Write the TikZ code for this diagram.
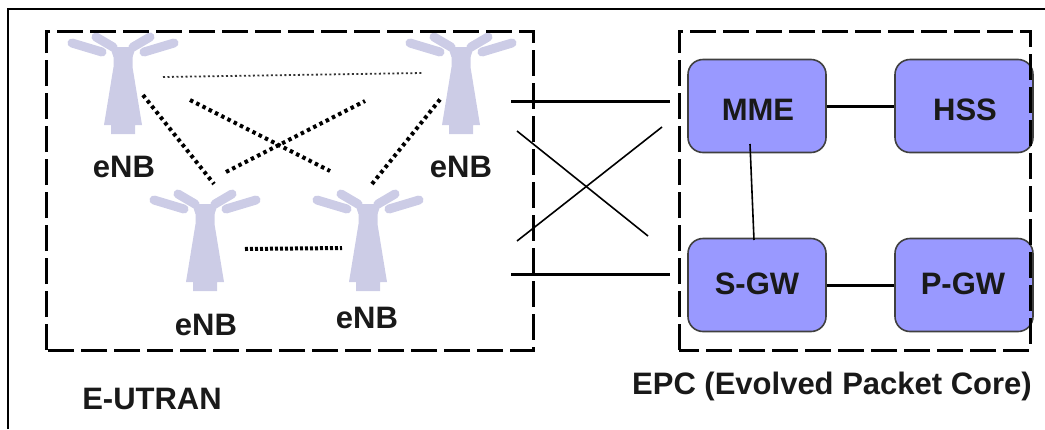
\documentclass[tikz,border=0pt]{standalone}
\usepackage{fontspec}
\setmainfont{Liberation Sans}
\definecolor{boxblue}{RGB}{153,153,255}
\definecolor{antfill}{RGB}{204,204,230}
\tikzset{
  lbl/.style={font=\fontsize{31}{33}\selectfont\bfseries, text=black!90, inner sep=0pt, anchor=center},
  corebox/.style={draw=black!75, line width=1.6pt, fill=boxblue, rounded corners=15pt, minimum width=138pt, minimum height=93pt, inner sep=0pt},
  dombox/.style={draw=black, line width=3pt, dash pattern=on 26pt off 7pt},
  strong/.style={draw=black, line width=3pt},
  thinline/.style={draw=black, line width=1.6pt},
  xdot/.style={draw=black, line width=4pt, dash pattern=on 3.5pt off 3.5pt},
  ddot/.style={draw=black, line width=4pt, dash pattern=on 3pt off 2pt},
  fdot/.style={draw=black!80, line width=1.8pt, dash pattern=on 2pt off 2.5pt},
  mast/.pic={
    \fill[antfill] (-9.5,19) -- (9.5,19) -- (9.5,34) -- (19,92) -- (12,92) -- (12,101) -- (-12,101) -- (-12,92) -- (-19,92) -- (-9.5,34) -- cycle;
    \foreach \s in {-1,1}{
      \draw[antfill, line width=9pt, line cap=round] (\s*51,10) -- (\s*21,19);
      \draw[antfill, line width=9pt, line cap=round] (\s*27,4) -- (\s*10,14);
    }
    \fill[antfill] (-13,14) -- (13,14) -- (9.5,24) -- (-9.5,24) -- cycle;
  }
}
\begin{document}
\begin{tikzpicture}[x=1pt,y=-1pt]
\useasboundingbox (0,0) rectangle (1045,429);
\draw[black, line width=2pt] (8,429) -- (8,9) -- (1045,9);
\pic at (123,33) {mast};
\pic at (461,33) {mast};
\pic at (205,190) {mast};
\pic at (368,190) {mast};
\node[lbl] (e1) at (124,167) {eNB};
\node[lbl] (e2) at (461,167) {eNB};
\node[lbl] (e3) at (206,325) {eNB};
\node[lbl] (e4) at (367,318) {eNB};
\node[lbl] (utran) at (152,399) {E-UTRAN};
\node[lbl] (epc) at (832,386) {EPC (Evolved Packet Core)};
\node[corebox] (mme) at (757,106) {};
\node[corebox] (hss) at (964,106) {};
\node[corebox] (sgw) at (757,285) {};
\node[corebox] (pgw) at (964,285) {};
\draw[dombox] (46,350) -- (46,31) -- (533,31) -- (533,350) -- cycle;
\draw[dombox] (679,350) -- (679,31) -- (1030,31) -- (1030,350) -- cycle;
\node[lbl] at (758,110) {MME};
\node[lbl] at (965,110) {HSS};
\node[lbl] at (757,284) {S-GW};
\node[lbl] at (963,284) {P-GW};
\draw[strong] (mme.east) -- (hss.west);
\draw[strong] (sgw.east) -- (pgw.west);
\coordinate (m1) at (750,144);
\coordinate (s1) at (754,240);
\draw[thinline] (m1) -- (s1);
\foreach \n/\ax/\ay/\bx/\by in {a/511/101/670/101,b/511/274/670/274}{
  \coordinate (\n1) at (\ax,\ay); \coordinate (\n2) at (\bx,\by);
  \draw[strong] (\n1) -- (\n2);
}
\foreach \n/\ax/\ay/\bx/\by in {c/517/131/648/236,d/517/241/662/127}{
  \coordinate (\n1) at (\ax,\ay); \coordinate (\n2) at (\bx,\by);
  \draw[thinline] (\n1) -- (\n2);
}
\foreach \n/\ax/\ay/\bx/\by in {f/143/95/214/184,g/190/100/330/171,h/226/172/365/101,i/372/184/442/97}{
  \coordinate (\n1) at (\ax,\ay); \coordinate (\n2) at (\bx,\by);
  \draw[xdot] (\n1) -- (\n2);
}
\coordinate (j1) at (245,249); \coordinate (j2) at (342,248);
\draw[ddot] (j1) -- (j2);
\coordinate (k1) at (163,77); \coordinate (k2) at (422,73);
\draw[fdot] (k1) -- (k2);
\end{tikzpicture}
\end{document}
